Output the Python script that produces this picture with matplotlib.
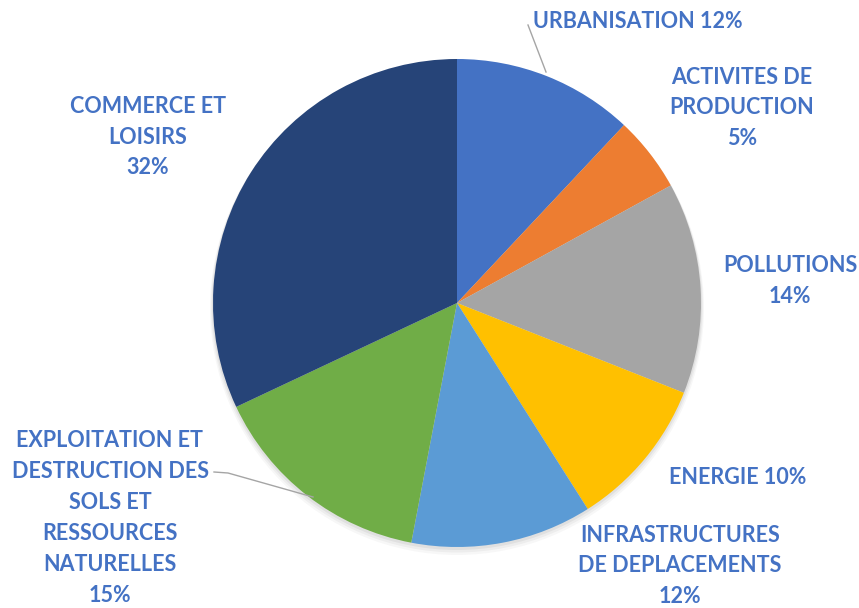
import matplotlib
matplotlib.use("Agg")
import matplotlib.pyplot as plt

categories = ["URBANISATION", "ACTIVITES DE PRODUCTION", "POLLUTIONS", "ENERGIE",
              "INFRASTRUCTURES DE DEPLACEMENTS",
              "EXPLOITATION ET DESTRUCTION DES SOLS ET RESSOURCES NATURELLES",
              "COMMERCE ET LOISIRS"]
values = [12, 5, 14, 10, 12, 15, 32]
label_texts = ["URBANISATION 12%", "ACTIVITES DE\nPRODUCTION\n5%", "POLLUTIONS\n14%",
               "ENERGIE 10%", "INFRASTRUCTURES\nDE DEPLACEMENTS\n12%",
               "EXPLOITATION ET\nDESTRUCTION DES\nSOLS ET\nRESSOURCES\nNATURELLES\n15%",
               "COMMERCE ET\nLOISIRS\n32%"]
colors = ["#4472C4", "#ED7D31", "#A5A5A5", "#FFC000", "#5B9BD5", "#70AD47", "#264478"]

W, H = 859, 608
fig = plt.figure(figsize=(W / 100, H / 100), dpi=100)
ax = fig.add_axes([0, 0, 1, 1])

cx, cy, r = 457, H - 303, 244
# soft shadow
for i, a in enumerate([0.05, 0.04, 0.03]):
    sh = plt.Circle((cx, cy - 2 - i * 1.5), r + 1 + i, color="black", alpha=a, zorder=0, lw=0)
    ax.add_patch(sh)

ax.pie(values, colors=colors, startangle=90, counterclock=False,
       center=(cx, cy), radius=r, frame=True,
       wedgeprops=dict(linewidth=0))
ax.set_xlim(0, W)
ax.set_ylim(0, H)
ax.set_aspect("equal")
ax.axis("off")

# label layout (pixel positions of label centres, image coords)
label_pos = [(638, 22), (742, 108), (790, 281), (738, 478), (680, 566), (110, 518), (148, 137)]
txt_color = "#4472C4"
for t, (x, y) in zip(label_texts, label_pos):
    ax.text(x, H - y, t, ha="center", va="center", color=txt_color,
            fontsize=15.5, fontweight="bold", family="Lato", linespacing=1.58)

# leader lines
ax.plot([528, 546], [H - 25, H - 72], color="#A5A5A5", lw=1)
ax.plot([214, 228, 313], [H - 472, H - 473, H - 497], color="#A5A5A5", lw=1)

fig.savefig("out.png", dpi=100)
